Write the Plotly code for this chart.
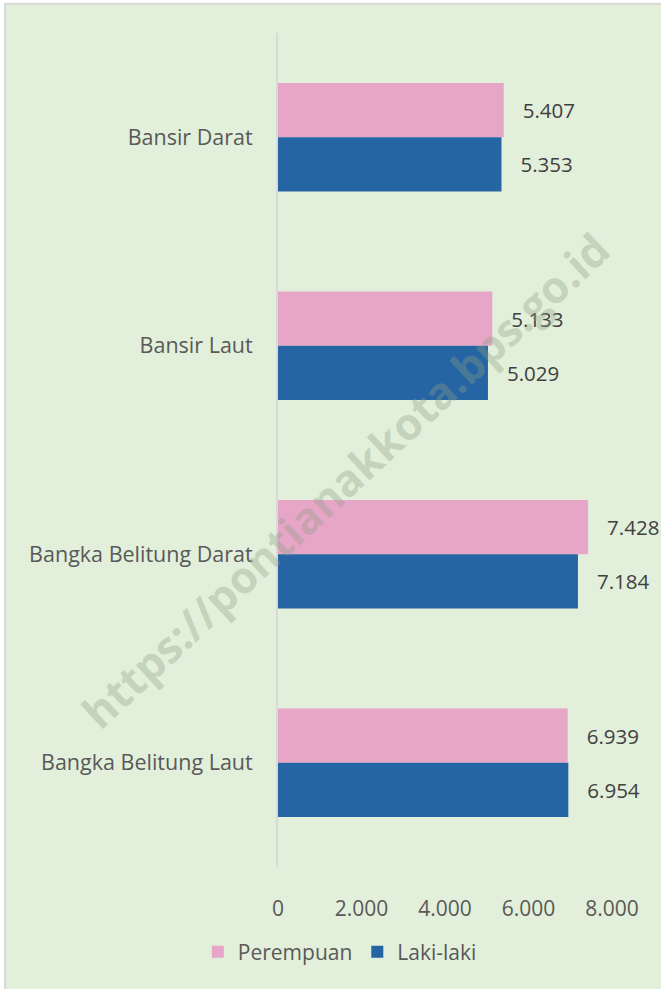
import plotly.graph_objects as go

categories = ["Bansir Darat", "Bansir Laut", "Bangka Belitung Darat", "Bangka Belitung Laut"]
perempuan = [5407, 5133, 7428, 6939]
laki_laki = [5353, 5029, 7184, 6954]
tick_vals = [0, 2000, 4000, 6000, 8000]

FONT = "Open Sans"
PAD = "\u00a0\u00a0\u00a0"

fig = go.Figure()
fig.add_trace(go.Bar(
    y=categories, x=perempuan, name="Perempuan", orientation="h",
    marker=dict(color="#E7A6C8", line=dict(width=0)),
    texttemplate=PAD + "%{x:,.0f}", textposition="outside", cliponaxis=False,
    textfont=dict(family=FONT, size=20.5, color="#404040"),
))
fig.add_trace(go.Bar(
    y=categories, x=laki_laki, name="Laki-laki", orientation="h",
    marker=dict(color="#2665A3", line=dict(width=0)),
    texttemplate=PAD + "%{x:,.0f}", textposition="outside", cliponaxis=False,
    textfont=dict(family=FONT, size=20.5, color="#404040"),
))

fig.update_layout(
    width=661, height=989,
    margin=dict(l=278, r=49, t=33, b=122),
    paper_bgcolor="white",
    plot_bgcolor="rgba(0,0,0,0)",
    separators=",.",
    barmode="group", bargap=0.48, bargroupgap=0,
    font=dict(family=FONT, size=21, color="#595959"),
    showlegend=True,
    legend=dict(orientation="h", x=0.185, xanchor="center", y=-0.102, yanchor="middle",
                font=dict(family=FONT, size=21, color="#595959"),
                bgcolor="rgba(0,0,0,0)", traceorder="normal", itemwidth=30),
    shapes=[dict(type="rect", xref="paper", yref="paper",
                 x0=-0.817, x1=1.3, y0=-0.3, y1=1.035,
                 fillcolor="#E2EFDA", line=dict(color="#D9D9D9", width=2),
                 layer="below")],
    annotations=[dict(text="<b>https://pontianakkota.bps.go.id</b>", xref="paper", yref="paper",
                      x=0.2006, y=0.464, xanchor="center", yanchor="middle",
                      showarrow=False, textangle=-43,
                      font=dict(family=FONT, size=44, color="rgba(140,160,130,0.35)"))],
)
fig.update_xaxes(range=[0, 8000], tickvals=tick_vals, tickformat=",.0f",
                 showgrid=False, zeroline=False, showline=False,
                 ticks="", ticklabelstandoff=27,
                 tickfont=dict(family=FONT, size=21, color="#595959"))
fig.update_yaxes(autorange="reversed", showgrid=False, zeroline=False,
                 showline=True, linecolor="#D9D9D9", linewidth=2,
                 ticks="", ticklabelstandoff=19,
                 tickfont=dict(family=FONT, size=21.5, color="#595959"))

fig.write_html("out.html", config={"displayModeBar": False},
               post_script="document.body.style.margin='0';document.body.style.overflow='hidden';")
